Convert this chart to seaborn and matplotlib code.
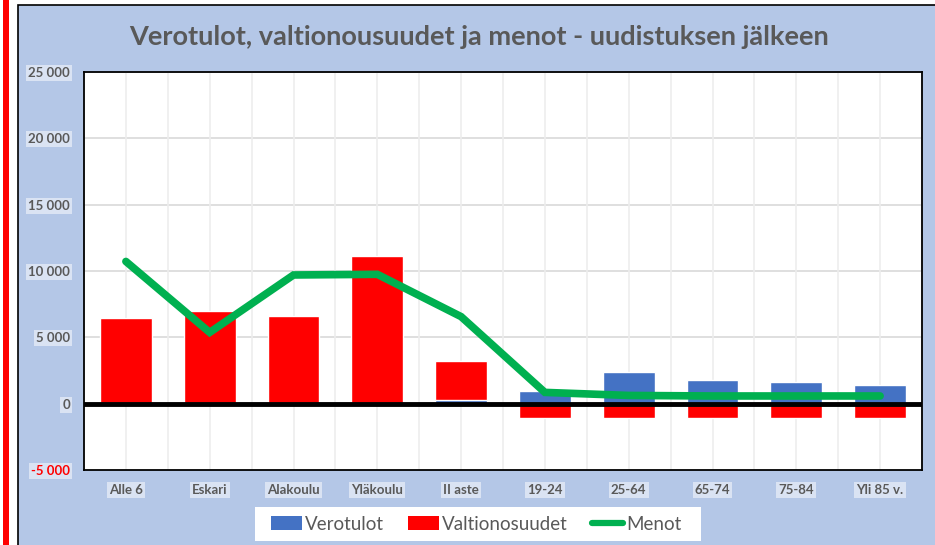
import numpy as np
import pandas as pd
import matplotlib
matplotlib.use("Agg")
import matplotlib.pyplot as plt
import seaborn as sns
from matplotlib.patches import Patch, Rectangle
from matplotlib.lines import Line2D

categories = ["Alle 6", "Eskari", "Alakoulu", "Yläkoulu", "II aste",
              "19-24", "25-64", "65-74", "75-84", "Yli 85 v."]
verotulot = [60, 60, 60, 60, 280, 950, 2400, 1750, 1670, 1400]
valtionosuudet = [6420, 6900, 6580, 11050, 2900, -1080, -1080, -1080, -1080, -1080]
menot = [10720, 5370, 9700, 9750, 6560, 850, 620, 580, 580, 580]
yticks = [-5000, 0, 5000, 10000, 15000, 20000, 25000]
ytick_labels = ["-5 000", "0", "5 000", "10 000", "15 000", "20 000", "25 000"]

sns.set_theme(style="white")
plt.rcParams["font.family"] = ["Lato", "DejaVu Sans"]

BLUE = "#4472C4"
RED = "#FF0000"
GREEN = "#00B050"
GRAY = "#595959"
PANEL = "#B4C7E7"
LABELBG = "#DAE3F3"

red_top = [r + b if r > 0 else r for r, b in zip(valtionosuudet, verotulot)]
df = pd.DataFrame({"cat": categories, "vero": verotulot, "red": red_top, "menot": menot})

fig = plt.figure(figsize=(9.35, 5.45), dpi=100)
fig.patch.set_facecolor("white")
# left red stripe and blue panel
fig.add_artist(Rectangle((3 / 935, 0), 6 / 935, 1, transform=fig.transFigure,
                         facecolor=RED, edgecolor="none", zorder=0))
fig.add_artist(Rectangle((18 / 935, -0.05), 1.0, 1 - 5 / 545 + 0.05, transform=fig.transFigure,
                         facecolor=PANEL, edgecolor="black", linewidth=1.2, zorder=0))
# legend background box
fig.add_artist(Rectangle((255 / 935, 1 - 541 / 545), (701 - 255) / 935, 34 / 545,
                         transform=fig.transFigure, facecolor="white", edgecolor="none",
                         zorder=1))

ax = fig.add_axes([84 / 935, 75 / 545, (922 - 84) / 935, (470 - 72) / 545])
ax.set_facecolor("white")

sns.barplot(data=df, x="cat", y="red", color=RED, width=0.62, saturation=1,
            ax=ax, zorder=3, order=categories)
sns.barplot(data=df, x="cat", y="vero", color=BLUE, width=0.62, saturation=1,
            ax=ax, zorder=3, order=categories)
sns.lineplot(x=np.arange(len(categories)), y=menot, color=GREEN, linewidth=5.5,
             ax=ax, zorder=5, solid_capstyle="round", solid_joinstyle="miter")

ax.axhline(0, color="black", linewidth=3.5, zorder=4)

ax.set_ylim(-5000, 25000)
ax.set_xlim(-0.5, len(categories) - 0.5)
ax.set_yticks(yticks)
ax.set_yticklabels(ytick_labels)
ax.set_xticks(np.arange(len(categories)))
ax.set_xticklabels(categories)
ax.set_xlabel("")
ax.set_ylabel("")

# gridlines
for y in yticks[2:]:
    ax.axhline(y, color="#D9D9D9", linewidth=1.2, zorder=1)
for x in np.arange(-0.5, len(categories), 0.5):
    ax.axvline(x, color="#EDEDED", linewidth=1.2, zorder=1)

for s in ax.spines.values():
    s.set_color("black")
    s.set_linewidth(1.3)

ax.tick_params(axis="both", length=0, pad=10)
for lab in ax.get_yticklabels():
    lab.set_fontsize(9.5)
    lab.set_fontweight("bold")
    lab.set_color(GRAY)
    lab.set_bbox(dict(facecolor=LABELBG, edgecolor="none", pad=1.5))
ax.get_yticklabels()[0].set_color(RED)
for lab in ax.get_xticklabels():
    lab.set_fontsize(9.5)
    lab.set_fontweight("bold")
    lab.set_color(GRAY)
    lab.set_bbox(dict(facecolor=LABELBG, edgecolor="none", pad=1.5))

fig.text(479 / 935, 1 - 37 / 545, "Verotulot, valtionousuudet ja menot - uudistuksen jälkeen",
         ha="center", va="center", fontsize=19.5, fontweight="bold", color=GRAY)

handles = [Patch(facecolor=BLUE, edgecolor="none"),
           Patch(facecolor=RED, edgecolor="none"),
           Line2D([0], [0], color=GREEN, linewidth=4.5, solid_capstyle="round")]
leg = fig.legend(handles, ["Verotulot", "Valtionosuudet", "Menot"],
                 loc="center", bbox_to_anchor=(476 / 935, 1 - 524 / 545), ncol=3,
                 frameon=False, fontsize=13.5, handlelength=1.65,
                 handleheight=0.8, handletextpad=0.15, columnspacing=1.3,
                 borderpad=0.3, borderaxespad=0)
for t in leg.get_texts():
    t.set_color(GRAY)

fig.savefig("out.png", dpi=100, facecolor=fig.get_facecolor())
